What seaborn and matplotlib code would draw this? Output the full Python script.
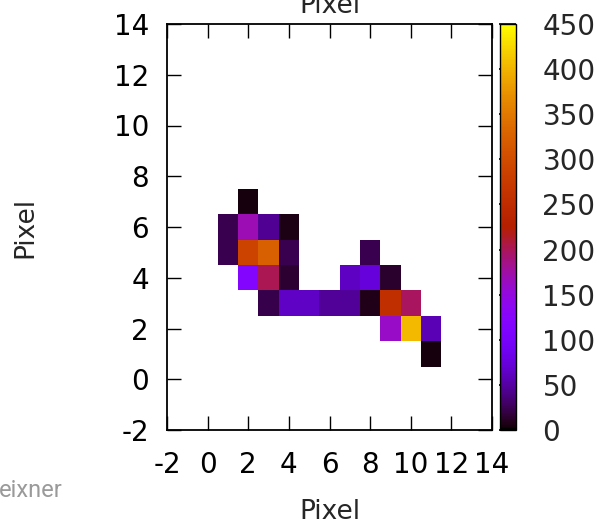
import matplotlib
matplotlib.use("Agg")
import matplotlib.pyplot as plt
import pandas as pd
import seaborn as sns

# Lit pixels: column, row and intensity of each one
pixel_x = [2,
           1, 2, 3, 4,
           1, 2, 3, 4, 8,
           2, 3, 4, 7, 8, 9,
           3, 4, 5, 6, 7, 8, 9, 10,
           9, 10, 11,
           11]
pixel_y = [7,
           6, 6, 6, 6,
           5, 5, 5, 5, 5,
           4, 4, 4, 4, 4, 4,
           3, 3, 3, 3, 3, 3, 3, 3,
           2, 2, 2,
           1]
intensity = [5,
             24, 170, 45, 6,
             24, 288, 324, 24, 23,
             120, 202, 15, 63, 75, 14,
             22, 64, 64, 47, 46, 8, 256, 198,
             160, 403, 58,
             5]

axis_ticks = [-2, 0, 2, 4, 6, 8, 10, 12, 14]
cb_ticks = [0, 50, 100, 150, 200, 250, 300, 350, 400, 450]
cb_min, cb_max = 0, 450

sns.set_style("white")
plt.rcParams["font.family"] = ["DejaVu Sans"]

frame = pd.DataFrame({"x": pixel_x, "y": pixel_y, "value": intensity})
cols = list(range(min(pixel_x), max(pixel_x) + 1))
rows = list(range(max(pixel_y), min(pixel_y) - 1, -1))
grid = frame.pivot(index="y", columns="x", values="value").reindex(index=rows, columns=cols)

fig = plt.figure(figsize=(5.99, 5.25), dpi=100)
W, H = 599, 525
ax = fig.add_axes([167 / W, 1 - 430 / H, 325 / W, 406 / H])
cax = fig.add_axes([500 / W, 1 - 430 / H, 16 / W, 406 / H])

sns.heatmap(grid, ax=ax, cbar_ax=cax, cmap="gnuplot", vmin=cb_min, vmax=cb_max,
            xticklabels=False, yticklabels=False)

# heatmap cell j spans [j, j+1]; map pixel coordinates onto that index space
x0, y0 = cols[0], rows[0]


def to_u(x):
    return x - x0 + 0.5


def to_v(y):
    return y0 - y + 0.5


ax.set_xlim(to_u(axis_ticks[0]), to_u(axis_ticks[-1]))
ax.set_ylim(to_v(axis_ticks[0]), to_v(axis_ticks[-1]))
ax.set_xticks([to_u(t) for t in axis_ticks])
ax.set_xticklabels([str(t) for t in axis_ticks], rotation=0)
ax.set_yticks([to_v(t) for t in axis_ticks])
ax.set_yticklabels([str(t) for t in axis_ticks], rotation=0)

for s in ax.spines.values():
    s.set_visible(True)
    s.set_color("black")
    s.set_linewidth(1.3)

ax.tick_params(axis="both", direction="in", length=10, width=1.0, color="black",
               top=True, right=True, bottom=True, left=True,
               labelsize=20, labelcolor="black")
ax.tick_params(axis="x", pad=15)
ax.tick_params(axis="y", pad=13)

ax.set_xlabel("Pixel", fontsize=19, va="center")
ax.xaxis.set_label_coords(0.5, (430 - 512) / 406)
ax.set_ylabel("Pixel", fontsize=19, va="center")
ax.yaxis.set_label_coords((25 - 167) / 325, 0.5)
ax.set_title("Pixel", fontsize=19, pad=8)

cbar = ax.collections[0].colorbar
cbar.set_ticks(cb_ticks)
cbar.set_ticklabels([str(t) for t in cb_ticks])
cbar.outline.set_visible(True)
cbar.outline.set_linewidth(1.0)
cbar.outline.set_edgecolor("black")
cax.tick_params(direction="in", length=12, width=1.2, color="black",
                labelsize=20, pad=19, right=True, left=False)

fig.text(-0.002, (H - 497) / H, "eixner", fontsize=17, color="#9a9a9a",
         family=["Roboto", "DejaVu Sans"], ha="left", va="baseline")

fig.savefig("out.png", dpi=100)
